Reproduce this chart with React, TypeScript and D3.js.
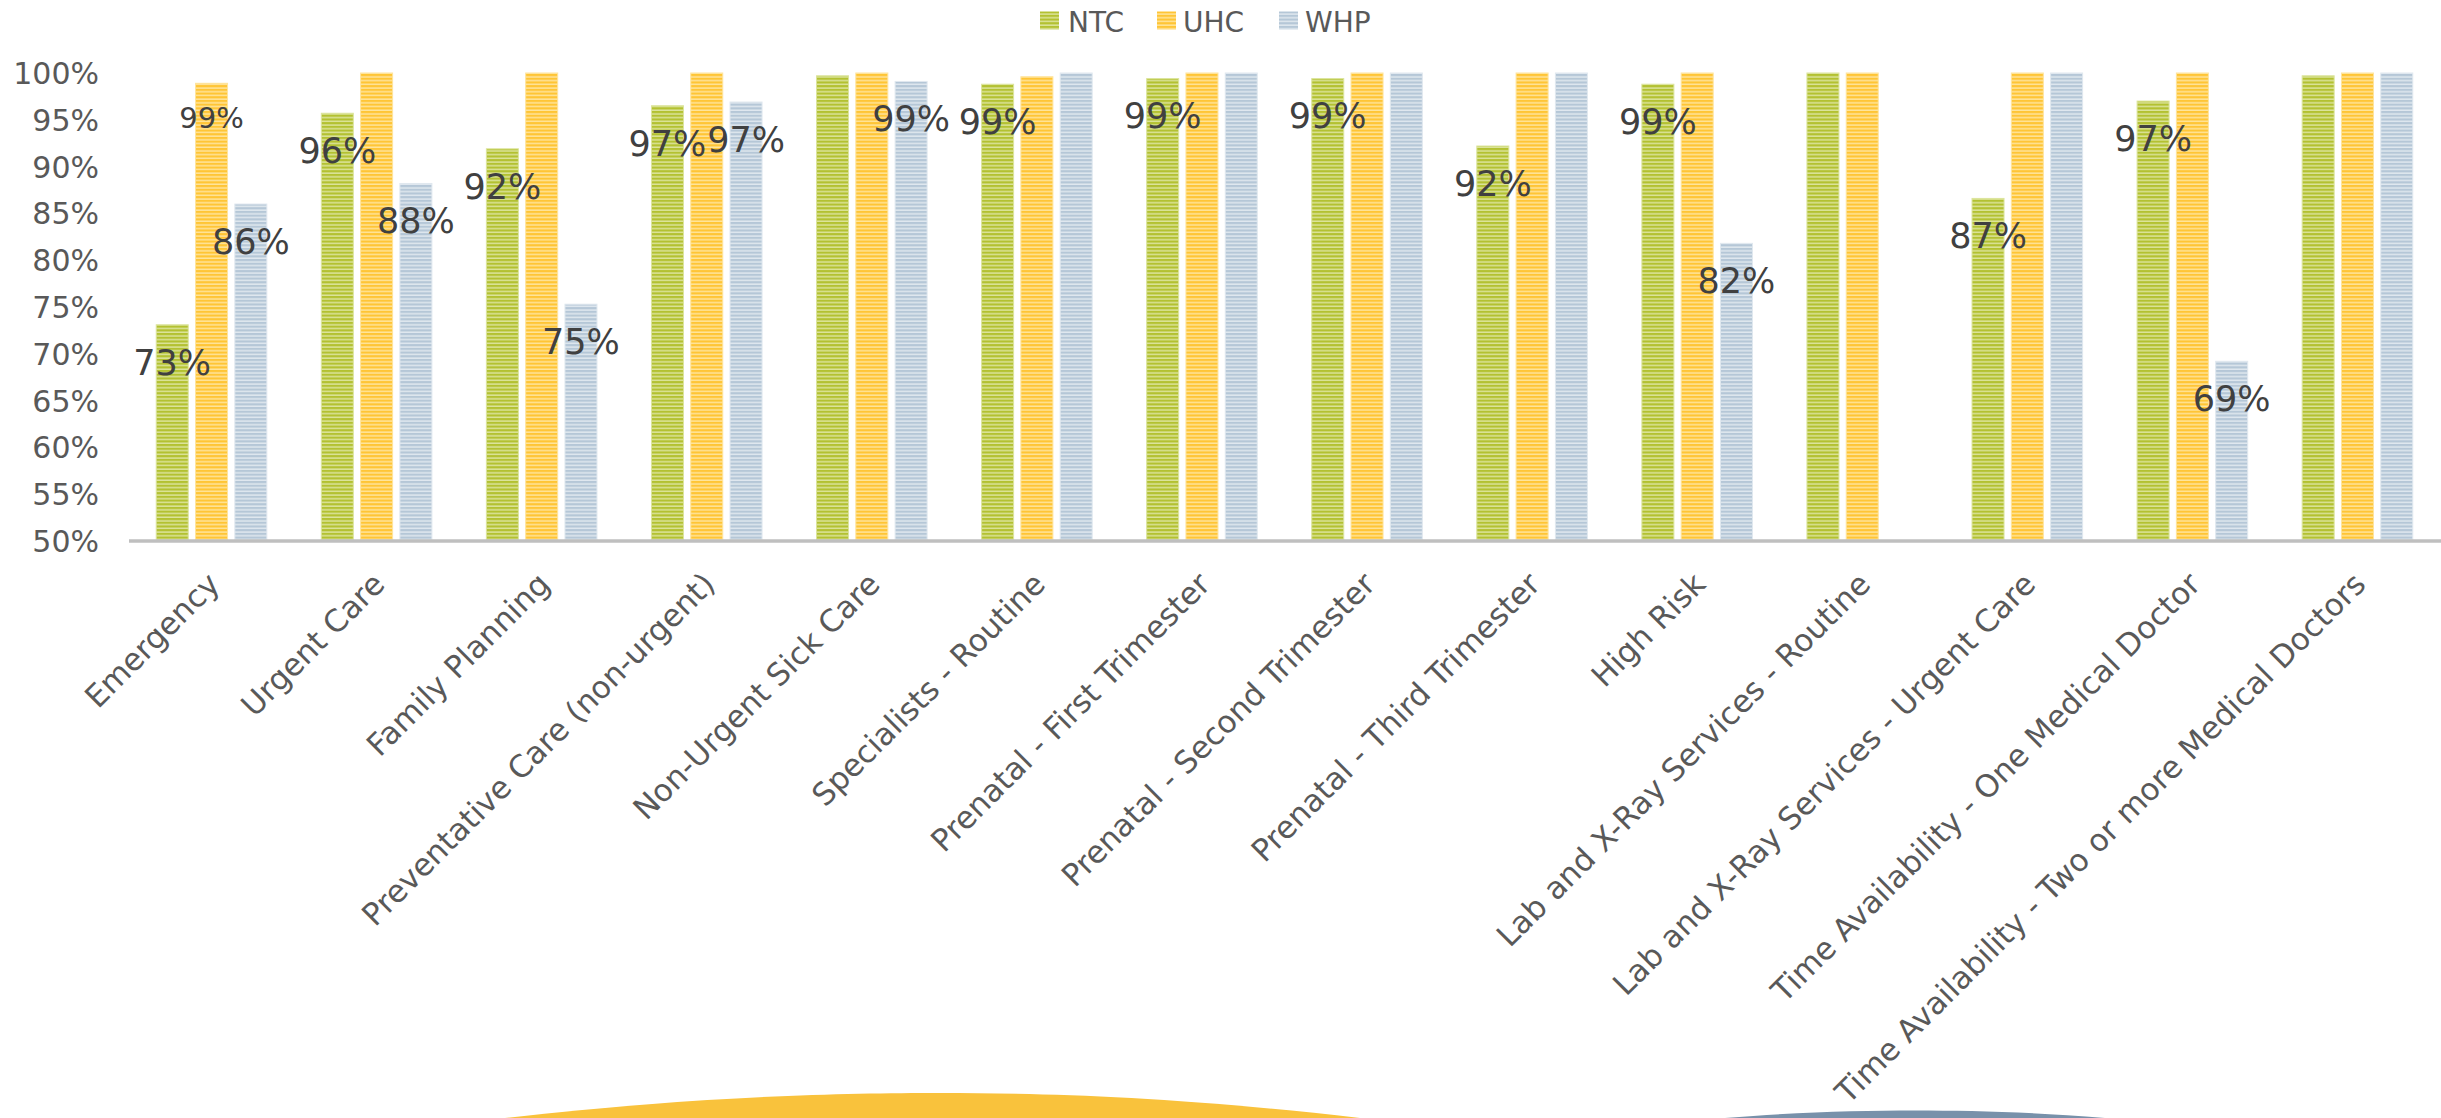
import React from "react";
import * as d3 from "d3";

const categories = [
  "Emergency",
  "Urgent Care",
  "Family Planning",
  "Preventative Care (non-urgent)",
  "Non-Urgent Sick Care",
  "Specialists - Routine",
  "Prenatal - First Trimester",
  "Prenatal - Second Trimester",
  "Prenatal - Third Trimester",
  "High Risk",
  "Lab and X-Ray Services - Routine",
  "Lab and X-Ray Services - Urgent Care",
  "Time Availability - One Medical Doctor",
  "Time Availability - Two or more Medical Doctors",
];
const seriesNames = ["NTC", "UHC", "WHP"];
const ntcValues = [73.1, 95.7, 91.9, 96.5, 99.7, 98.8, 99.4, 99.4, 92.2, 98.8, 100, 86.6, 97.0, 99.7];
const uhcValues = [98.9, 100, 100, 100, 100, 99.6, 100, 100, 100, 100, 100, 100, 100, 100];
const whpValues = [86.0, 88.2, 75.3, 96.9, 99.1, 100, 100, 100, 100, 81.8, null, 100, 69.2, 100];
const yTicks = [50, 55, 60, 65, 70, 75, 80, 85, 90, 95, 100];

const W = 2441;
const H = 1118;
const FONT = "'DejaVu Sans', sans-serif";

const seriesStyle: Record<string, { dark: string; light: string }> = {
  NTC: { dark: "#b3c131", light: "#dce49c" },
  UHC: { dark: "#ffc535", light: "#ffe49c" },
  WHP: { dark: "#b5c7d7", light: "#e0e8ef" },
};

export default function App() {
  const valuesBySeries: (number | null)[][] = [ntcValues, uhcValues, whpValues];

  const x0 = d3.scaleBand<string>().domain(categories).range([129, 2440]).paddingInner(0).paddingOuter(0);
  const x1 = d3
    .scaleBand<string>()
    .domain(seriesNames)
    .range([-55.8, 55.8])
    .paddingInner(0.16)
    .paddingOuter(0);
  const y = d3.scaleLinear().domain([50, 100]).range([541, 73]);

  const cx = (c: string) => (x0(c) as number) + x0.bandwidth() / 2;
  const bw = x1.bandwidth();

  const legendItems = [
    { name: "NTC", sx: 1040, tx: 1068 },
    { name: "UHC", sx: 1157, tx: 1183 },
    { name: "WHP", sx: 1279, tx: 1305 },
  ];

  return (
    <svg
      width={W}
      height={H}
      style={{ position: "absolute", left: 0, top: 0, display: "block", background: "#ffffff" }}
    >
      <defs>
        {seriesNames.map((s) => (
          <pattern
            key={s}
            id={`pat-${s}`}
            patternUnits="userSpaceOnUse"
            width={8}
            height={3.7}
          >
            <rect width={8} height={3.7} fill={seriesStyle[s].light} />
            <rect width={8} height={2.2} fill={seriesStyle[s].dark} />
          </pattern>
        ))}
      </defs>
      <rect width={W} height={H} fill="#ffffff" />

      {/* decorative bottom shapes */}
      <path d="M 505 1118 C 700 1096, 840 1093, 940 1093 C 1040 1093, 1170 1096, 1360 1118 Z" fill="#f9c23c" />
      <path d="M 1725 1118 C 1800 1112, 1860 1110.5, 1915 1110.5 C 1970 1110.5, 2030 1112, 2105 1118 Z" fill="#7891aa" />

      {/* legend */}
      {legendItems.map((l) => (
        <g key={l.name}>
          <rect x={l.sx} y={11.5} width={19} height={18} fill={`url(#pat-${l.name})`} />
          <text x={l.tx} y={32} fontFamily={FONT} fontSize={28} fill="#595959">
            {l.name}
          </text>
        </g>
      ))}

      {/* y axis tick labels */}
      {yTicks.map((t) => (
        <text
          key={t}
          x={99}
          y={y(t) + 11}
          textAnchor="end"
          fontFamily={FONT}
          fontSize={30}
          fill="#595959"
        >
          {`${t}%`}
        </text>
      ))}

      {/* bars */}
      {categories.map((c, ci) => (
        <g key={c} transform={`translate(${cx(c)},0)`}>
          {seriesNames.map((s, si) => {
            const v = valuesBySeries[si][ci];
            if (v == null) return null;
            const bx = x1(s) as number;
            return (
              <rect
                key={s}
                x={bx + 0.5}
                y={y(v)}
                width={bw - 1}
                height={y(50) - y(v)}
                fill={`url(#pat-${s})`}
                stroke={seriesStyle[s].light}
                strokeWidth={1}
              />
            );
          })}
        </g>
      ))}

      {/* axis line */}
      <line x1={129} x2={2441} y1={541} y2={541} stroke="#bfbfbf" strokeWidth={3.4} />

      {/* data labels */}
      {categories.map((c, ci) => (
        <g key={c}>
          {seriesNames.map((s, si) => {
            const v = valuesBySeries[si][ci];
            if (v == null || Math.round(v) >= 100) return null;
            const small = ci === 0 && s === "UHC";
            const fs = small ? 29 : 35;
            const lx = cx(c) + (x1(s) as number) + bw / 2;
            const ly = y(v) + (small ? 34 : 37) + fs * 0.365;
            return (
              <text
                key={s}
                x={lx}
                y={ly}
                textAnchor="middle"
                fontFamily={FONT}
                fontSize={fs}
                fill="#404040"
              >
                {`${Math.round(v)}%`}
              </text>
            );
          })}
        </g>
      ))}

      {/* x axis labels */}
      {categories.map((c) => (
        <text
          key={c}
          transform={`translate(${cx(c) + 10},${586}) rotate(-45)`}
          textAnchor="end"
          fontFamily={FONT}
          fontSize={31}
          fill="#595959"
        >
          {c}
        </text>
      ))}
    </svg>
  );
}
